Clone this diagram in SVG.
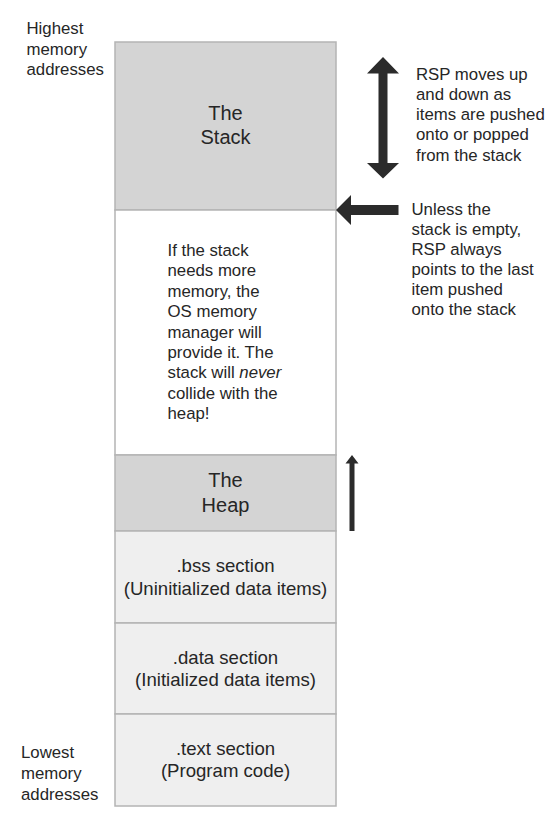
<svg xmlns="http://www.w3.org/2000/svg" width="552" height="818" viewBox="0 0 552 818">
<style>
text{font-family:"Liberation Sans",Arial,sans-serif;fill:#262626}
.s{font-size:16.8px}
.b{font-size:20px}
.m{font-size:18.6px}
.box{stroke:#b4b4b4;stroke-width:1.5}
.dark{fill:#d4d4d4}
.light{fill:#efefef}
.arr{fill:#2b2b2b}
</style>
<rect width="552" height="818" fill="#fff"/>
<g id="label-high">
<text class="s" x="26.5" y="34">Highest</text>
<text class="s" x="26.5" y="55">memory</text>
<text class="s" x="26.5" y="75">addresses</text>
</g>
<g id="label-low">
<text class="s" x="21" y="758">Lowest</text>
<text class="s" x="21" y="779">memory</text>
<text class="s" x="21" y="800">addresses</text>
</g>
<g id="stack">
<rect class="box dark" x="115" y="42" width="221" height="168"/>
<text class="b" x="225.5" y="120" text-anchor="middle">The</text>
<text class="b" x="225.5" y="144" text-anchor="middle">Stack</text>
</g>
<g id="free">
<rect class="box" fill="#fff" x="115" y="210" width="221" height="245"/>
<text class="s" x="167.5" y="256">If the stack</text>
<text class="s" x="167.5" y="276.4">needs more</text>
<text class="s" x="167.5" y="296.8">memory, the</text>
<text class="s" x="167.5" y="317.2">OS memory</text>
<text class="s" x="167.5" y="337.6">manager will</text>
<text class="s" x="167.5" y="358">provide it. The</text>
<text class="s" x="167.5" y="378.4">stack will <tspan font-style="italic">never</tspan></text>
<text class="s" x="167.5" y="398.8">collide with the</text>
<text class="s" x="167.5" y="419.2">heap!</text>
</g>
<g id="heap">
<rect class="box dark" x="115" y="455" width="221" height="76"/>
<text class="b" x="225.5" y="487" text-anchor="middle">The</text>
<text class="b" x="225.5" y="512" text-anchor="middle">Heap</text>
</g>
<g id="bss">
<rect class="box light" x="115" y="531" width="221" height="92"/>
<text class="m" x="225.5" y="572" text-anchor="middle">.bss section</text>
<text class="m" x="225.5" y="594.5" text-anchor="middle">(Uninitialized data items)</text>
</g>
<g id="data">
<rect class="box light" x="115" y="623" width="221" height="91"/>
<text class="m" x="225.5" y="663.5" text-anchor="middle">.data section</text>
<text class="m" x="225.5" y="686" text-anchor="middle">(Initialized data items)</text>
</g>
<g id="text">
<rect class="box light" x="115" y="714" width="221" height="92"/>
<text class="m" x="225.5" y="755" text-anchor="middle">.text section</text>
<text class="m" x="225.5" y="777" text-anchor="middle">(Program code)</text>
</g>
<g id="connectors">
<polygon class="arr" points="383,57 399,73.5 387.5,73.5 387.5,163 399,163 383,178.5 367,163 378.5,163 378.5,73.5 367,73.5"/>
<polygon class="arr" points="336,210 351,195 351,205 398.5,205 398.5,215 351,215 351,225"/>
<polygon class="arr" points="352,455 358.5,463.5 354.5,463.5 354.5,531 349.5,531 349.5,463.5 345.5,463.5"/>
</g>
<g id="note-rsp">
<text class="s" x="416" y="79.5">RSP moves up</text>
<text class="s" x="416" y="99.8">and down as</text>
<text class="s" x="416" y="120.1">items are pushed</text>
<text class="s" x="416" y="140.4">onto or popped</text>
<text class="s" x="416" y="160.7">from the stack</text>
</g>
<g id="note-top">
<text class="s" x="411.5" y="215">Unless the</text>
<text class="s" x="411.5" y="235">stack is empty,</text>
<text class="s" x="411.5" y="255">RSP always</text>
<text class="s" x="411.5" y="275">points to the last</text>
<text class="s" x="411.5" y="295">item pushed</text>
<text class="s" x="411.5" y="315">onto the stack</text>
</g>
</svg>
